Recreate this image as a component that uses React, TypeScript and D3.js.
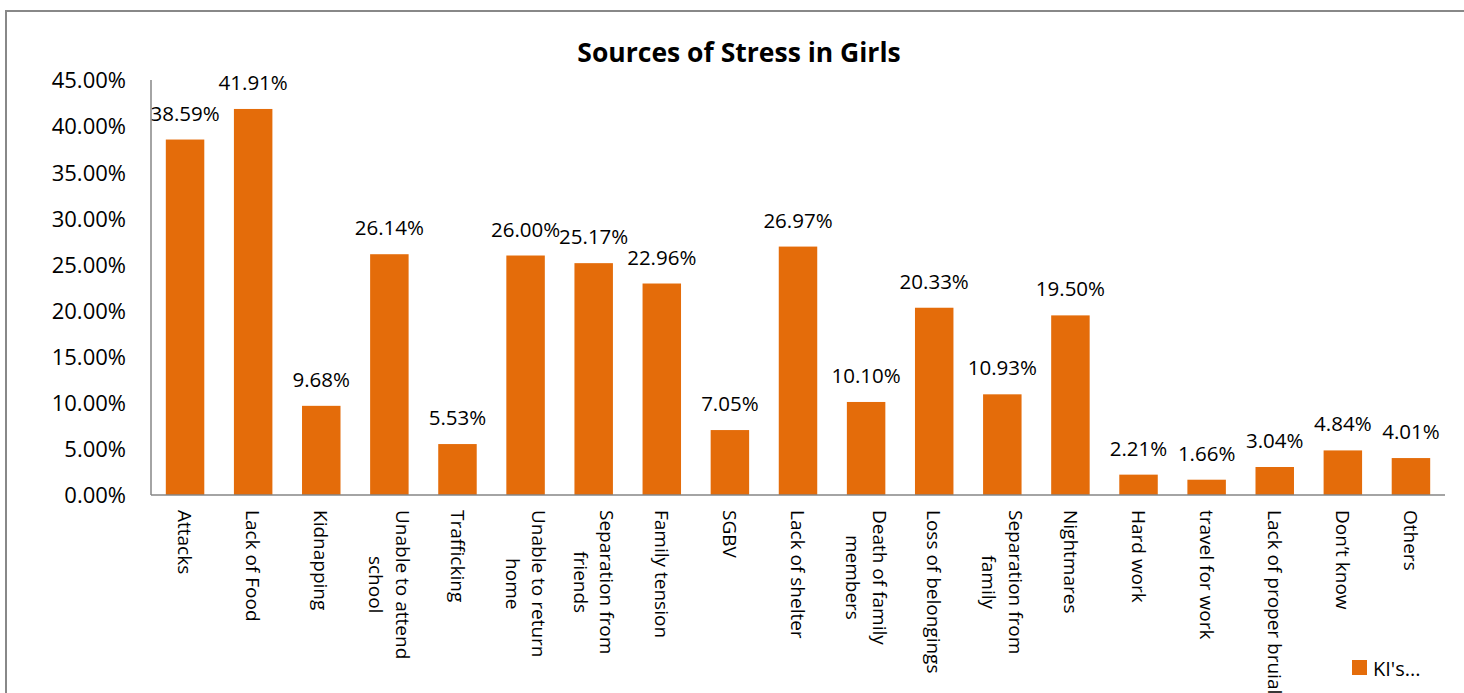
import React from "react";
import * as d3 from "d3";

const categories = [
  "Attacks", "Lack of Food", "Kidnapping", "Unable to attend school", "Trafficking",
  "Unable to return home", "Separation from friends", "Family tension", "SGBV",
  "Lack of shelter", "Death of family members", "Loss of belongings",
  "Separation from family", "Nightmares", "Hard work", "travel for work",
  "Lack of proper bruial", "Don\u2019t know", "Others",
];
const values = [
  38.59, 41.91, 9.68, 26.14, 5.53, 26.0, 25.17, 22.96, 7.05, 26.97, 10.1, 20.33,
  10.93, 19.5, 2.21, 1.66, 3.04, 4.84, 4.01,
];
const labelLines: string[][] = [
  ["Attacks"], ["Lack of Food"], ["Kidnapping"], ["Unable to attend", "school"], ["Trafficking"],
  ["Unable to return", "home"], ["Separation from", "friends"], ["Family tension"], ["SGBV"],
  ["Lack of shelter"], ["Death of family", "members"], ["Loss of belongings"],
  ["Separation from", "family"], ["Nightmares"], ["Hard work"], ["travel for work"],
  ["Lack of proper bruial"], ["Don\u2019t know"], ["Others"],
];
const yTicks = [0, 5, 10, 15, 20, 25, 30, 35, 40, 45];
const title = "Sources of Stress in Girls";
const legendLabel = "KI's...";

const W = 1464, H = 693;
const FONT = "'Open Sans', 'Noto Sans', sans-serif";
const ORANGE = "#E46C0A";
const AXIS = "#868686";
const XFS = 19;

let ctx: CanvasRenderingContext2D | null = null;
function measure(s: string, size: number) {
  if (!ctx) ctx = document.createElement("canvas").getContext("2d");
  if (!ctx) return s.length * size * 0.5;
  ctx.font = `${size}px ${FONT}`;
  return ctx.measureText(s).width;
}

export default function App() {
  const x = d3.scaleBand<number>().domain(d3.range(categories.length)).range([151, 1445]).paddingInner(0.435).paddingOuter(0.2175);
  const y = d3.scaleLinear().domain([0, 45]).range([495, 80.5]);
  const fmt = (v: number) => v.toFixed(2) + "%";
  return (
    <div style={{ position: "absolute", left: 0, top: 0 }}>
      <svg width={W} height={H} style={{ display: "block" }} fontFamily={FONT}>
        <rect x={0} y={0} width={W} height={H} fill="#fff" />
        <rect x={6} y={11} width={W + 20} height={H + 20} fill="none" stroke="#888" strokeWidth={2} />
        <text x={739} y={62} textAnchor="middle" fontWeight="bold" fontSize={26.5} fill="#000">{title}</text>
        {yTicks.map((t) => (
          <text key={t} x={126} y={y(t)} dy="0.36em" textAnchor="end" fontSize={22} fill="#000">{fmt(t)}</text>
        ))}
        {values.map((v, i) => (
          <rect key={i} x={x(i)} y={y(v)} width={x.bandwidth()} height={y(0) - y(v)} fill={ORANGE} />
        ))}
        {values.map((v, i) => (
          <text key={"l" + i} x={(x(i) as number) + x.bandwidth() / 2} y={y(v) - 19} textAnchor="middle" fontSize={20.5} fill="#000">{fmt(v)}</text>
        ))}
        <line x1={151} x2={151} y1={80} y2={495} stroke={AXIS} strokeWidth={1.5} />
        <line x1={151} x2={1445} y1={495} y2={495} stroke={AXIS} strokeWidth={1.5} />
        {labelLines.map((lines, i) => {
          const cx = (x(i) as number) + x.bandwidth() / 2;
          const lh = 26.5;
          const maxW = Math.max(...lines.map((l) => measure(l, XFS)));
          return (
            <g key={"x" + i} transform={`translate(${cx},510) rotate(90)`}>
              {lines.map((ln, j) => {
                const off = (j - (lines.length - 1) / 2) * lh;
                return (
                  <text key={j} x={maxW / 2} y={off} dy="0.36em" textAnchor="middle" fontSize={XFS} fill="#000">{ln}</text>
                );
              })}
            </g>
          );
        })}
        <rect x={1352} y={660} width={15} height={15} fill={ORANGE} />
        <text x={1373} y={676} fontSize={20} fill="#000">{legendLabel}</text>
      </svg>
    </div>
  );
}
